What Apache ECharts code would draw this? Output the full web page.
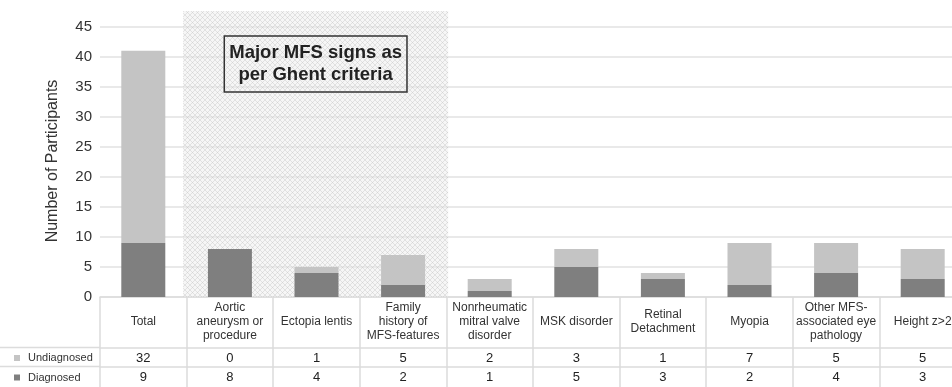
<!DOCTYPE html>
<html>
<head>
<meta charset="utf-8">
<script src="https://cdn.jsdelivr.net/npm/echarts@6/dist/echarts.min.js"></script>
<style>
html,body{margin:0;padding:0;background:#fff;overflow:hidden;width:952px;height:387px;}
#c{width:966px;height:387px;}
</style>
</head>
<body>
<div id="c"></div>
<script>
// ---- data ----
var categories = [
  "Total",
  "Aortic\naneurysm or\nprocedure",
  "Ectopia lentis",
  "Family\nhistory of\nMFS-features",
  "Nonrheumatic\nmitral valve\ndisorder",
  "MSK disorder",
  "Retinal\nDetachment",
  "Myopia",
  "Other MFS-\nassociated eye\npathology",
  "Height z>2"
];
var undiagnosed = [32, 0, 1, 5, 2, 3, 1, 7, 5, 5];
var diagnosed   = [9, 8, 4, 2, 1, 5, 3, 2, 4, 3];
var seriesNames = ["Undiagnosed", "Diagnosed"];
var yTicks = [0, 5, 10, 15, 20, 25, 30, 35, 40, 45];
var majorCategoryRange = [1, 3]; // indices of categories covered by the shaded block
var annotationText = "Major MFS signs as\nper Ghent criteria";

// ---- styles ----
var FONT = "Liberation Sans, Arial, Helvetica, sans-serif";
var DARK = "#7f7f7f", LIGHT = "#c4c4c4", RULE = "#dcdcdc", TXT = "#333";
var YMAX = 47.6;

function hatch() {
  var c = document.createElement('canvas');
  c.width = 5; c.height = 5;
  var g = c.getContext('2d');
  g.fillStyle = 'rgba(235,235,235,0.45)';
  g.fillRect(0, 0, 5, 5);
  g.strokeStyle = 'rgba(185,185,185,0.35)';
  g.lineWidth = 1;
  g.beginPath();
  g.moveTo(0, 0); g.lineTo(5, 5);
  g.moveTo(5, 0); g.lineTo(0, 5);
  g.stroke();
  return c;
}

var chart = echarts.init(document.getElementById('c'), null, {renderer: 'canvas'});

var legendText = {fontSize: 11, color: TXT, fontFamily: FONT, lineHeight: 14, padding: [0, 0, 0, 3]};

var option = {
  animation: false,
  textStyle: {fontFamily: FONT},
  grid: {left: 100, right: 0, top: 11, bottom: 90},
  legend: [
    {data: [seriesNames[0]], left: 14, top: 351, padding: 0, itemWidth: 6, itemHeight: 6,
     icon: 'rect', textStyle: legendText, selectedMode: false},
    {data: [seriesNames[1]], left: 14, top: 370.5, padding: 0, itemWidth: 6, itemHeight: 6,
     icon: 'rect', textStyle: legendText, selectedMode: false}
  ],
  xAxis: [
    {
      type: 'category', data: categories, position: 'bottom',
      axisLine: {show: true, lineStyle: {color: RULE, width: 1.5}},
      axisTick: {show: true, alignWithLabel: false, interval: 0, length: 92, lineStyle: {color: RULE, width: 1.5}},
      axisLabel: {interval: 0, margin: 25, verticalAlign: 'middle', fontSize: 12, lineHeight: 14, color: TXT, fontFamily: FONT},
      splitLine: {show: false}
    },
    {
      type: 'category', data: categories, position: 'bottom', offset: 51,
      axisLine: {show: true, lineStyle: {color: RULE, width: 1.5}},
      axisTick: {show: false},
      axisLabel: {interval: 0, margin: 3, fontSize: 13, lineHeight: 15, color: '#222', fontFamily: FONT,
        formatter: function (v, i) { return String(undiagnosed[i]); }}
    },
    {
      type: 'category', data: categories, position: 'bottom', offset: 70,
      axisLine: {show: true, lineStyle: {color: RULE, width: 1.5}},
      axisTick: {show: false},
      axisLabel: {interval: 0, margin: 3, fontSize: 13, lineHeight: 15, color: '#222', fontFamily: FONT,
        formatter: function (v, i) { return String(diagnosed[i]); }}
    },
    {type: 'value', min: 0, max: categories.length, show: false}
  ],
  yAxis: {
    type: 'value', min: 0, max: YMAX, interval: 5,
    name: 'Number of Participants', nameLocation: 'middle', nameGap: 39,
    nameTextStyle: {fontSize: 16, color: TXT, fontFamily: FONT, padding: [0, 14, 0, 0]},
    axisLine: {show: false}, axisTick: {show: false},
    axisLabel: {fontSize: 15, color: TXT, margin: 8, fontFamily: FONT, showMaxLabel: false,
      formatter: function (v) { return yTicks.indexOf(v) >= 0 ? String(v) : ''; }},
    splitLine: {show: true, showMaxLine: false, lineStyle: {color: '#e2e2e2', width: 1.5}}
  },
  series: [
    {
      name: seriesNames[1], type: 'bar', stack: 's', data: diagnosed, barWidth: 44,
      xAxisIndex: 0, itemStyle: {color: DARK}, z: 3
    },
    {
      name: seriesNames[0], type: 'bar', stack: 's', data: undiagnosed, barWidth: 44,
      xAxisIndex: 0, itemStyle: {color: LIGHT}, z: 3
    },
    {
      name: 'major', type: 'line', xAxisIndex: 3, data: [], silent: true, z: 1,
      markArea: {
        silent: true,
        itemStyle: {color: {image: hatch(), repeat: 'repeat'}},
        label: {
          show: true, position: 'insideTop', distance: 25,
          formatter: annotationText,
          fontSize: 18.5, fontWeight: 'bold', color: '#222', lineHeight: 22, fontFamily: FONT,
          borderColor: '#333', borderWidth: 1.5, padding: [6, 5, 6, 5]
        },
        data: [[
          {xAxis: majorCategoryRange[0] - 0.04, yAxis: 0},
          {xAxis: majorCategoryRange[1] + 1.02, yAxis: YMAX}
        ]]
      }
    }
  ],
  graphic: [
    {type: 'line', shape: {x1: 0, y1: 347.5, x2: 100, y2: 347.5}, style: {stroke: RULE, lineWidth: 1.5}, silent: true},
    {type: 'line', shape: {x1: 0, y1: 366.5, x2: 100, y2: 366.5}, style: {stroke: RULE, lineWidth: 1.5}, silent: true}
  ]
};
chart.setOption(option);
</script>
</body>
</html>
